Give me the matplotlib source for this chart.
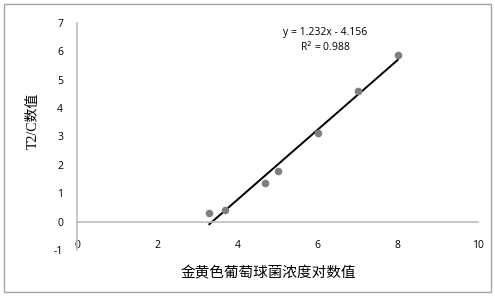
import matplotlib
matplotlib.use("Agg")
import matplotlib.pyplot as plt
import numpy as np
from matplotlib.patches import Rectangle

x_vals = [3.3, 3.7, 4.7, 5.0, 6.0, 7.0, 8.0]
y_vals = [0.3, 0.4, 1.35, 1.8, 3.12, 4.59, 5.88]
slope, intercept = 1.232, -4.156
eq_text = "y = 1.232x - 4.156"
r2_text = "R$^2$ = 0.988"
x_ticks = [0, 2, 4, 6, 8, 10]
y_ticks = [-1, 0, 1, 2, 3, 4, 5, 6, 7]
x_label = "金黄色葡萄球菌浓度对数值"
y_label = "T2/C数值"

plt.rcParams['font.family'] = ['Open Sans', 'Noto Sans CJK SC', 'DejaVu Sans']

fig = plt.figure(figsize=(4.95, 2.96), dpi=100)
fig.patches.append(Rectangle((4/495, 4/296), 487/495, 288/296, transform=fig.transFigure,
                             fill=False, edgecolor='#a6a6a6', linewidth=1))
ax = fig.add_axes([77/495, 1-250/296, 401/495, 227/296])
ax.set_xlim(0, 10)
ax.set_ylim(-1, 7)

ax.scatter(x_vals, y_vals, s=30, color='#7f7f7f', zorder=3, linewidths=0)
xx = np.array([min(x_vals), max(x_vals)])
ax.plot(xx, slope*xx + intercept, color='black', linewidth=1.4, zorder=2)

for s in ['top', 'right']:
    ax.spines[s].set_visible(False)
ax.spines['left'].set_color('#bfbfbf')
ax.spines['bottom'].set_color('#bfbfbf')
ax.spines['bottom'].set_position(('data', 0))
ax.spines['left'].set_linewidth(1.2)
ax.spines['bottom'].set_linewidth(1.2)
ax.set_xticks(x_ticks)
ax.set_yticks(y_ticks)
ax.set_xticklabels([str(v) for v in x_ticks])
ax.set_yticklabels([str(v) for v in y_ticks])
ax.tick_params(axis='x', length=0, pad=13, labelsize=7.5, labelcolor='black')
ax.tick_params(axis='y', length=0, pad=10, labelsize=7.5, labelcolor='black')

ax.text(6.2, 6.65, eq_text, ha='center', va='center', fontsize=7.5)
ax.text(6.2, 6.15, r2_text, ha='center', va='center', fontsize=7.5)

fig.text(268/495, 1-273/296, x_label, ha='center', va='center', fontsize=10.5,
         family=['Noto Sans CJK SC'])
fig.text(33/495, 1-121/296, y_label, ha='center', va='center', fontsize=10,
         rotation=90, family=['Liberation Serif', 'Noto Sans CJK SC'])

fig.savefig("out.png", dpi=100)
